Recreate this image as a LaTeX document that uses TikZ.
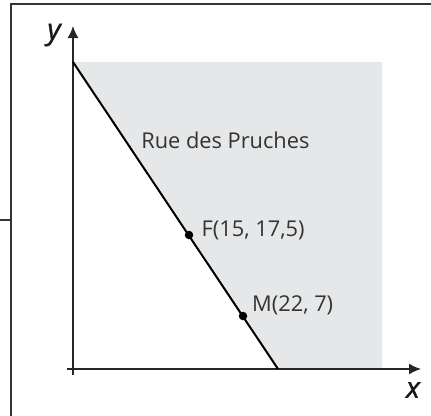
\documentclass[tikz,border=0pt]{standalone}
\usepackage{fontspec}
\setmainfont{Open Sans}
\usetikzlibrary{arrows.meta}
\definecolor{zone}{HTML}{E6E7E8}
\definecolor{frame}{HTML}{333333}
\tikzset{
  framel/.style={draw=frame, line width=2bp},
  axisl/.style={draw=black!85, line width=1.5bp, -{Latex[length=12bp,width=11bp]}},
  road/.style={draw=black, line width=2bp},
  pt/.style={circle, fill=black, inner sep=0pt, minimum size=8.5bp},
  lbl/.style={inner sep=0pt, font=\fontsize{21.8bp}{24bp}\selectfont, text=black!80},
  axlbl/.style={inner sep=0pt, font=\fontsize{29bp}{30bp}\selectfont\itshape\addfontfeature{FakeBold=1.3}, text=black!90}
}
\begin{document}
\begin{tikzpicture}[x=1bp,y=-1bp]
\useasboundingbox (0,0) rectangle (431,416);
% frame
\coordinate (ftl) at (11,4);
\coordinate (ftr) at (431,4);
\coordinate (fbl) at (11,416);
\coordinate (tick) at (0,220);
\coordinate (tickr) at (11,220);
\draw[framel] (ftr) -- (ftl) -- (fbl);
\draw[framel] (tick) -- (tickr);
% shaded region
\coordinate (A) at (73,62);
\coordinate (B) at (382,62);
\coordinate (C) at (382,369);
\coordinate (D) at (278,369);
\fill[zone] (A) -- (B) -- (C) -- (D) -- cycle;
% axes
\coordinate (xs) at (67,369);
\coordinate (xe) at (421,369);
\coordinate (ys) at (73,375);
\coordinate (ye) at (73,26);
\draw[axisl] (xs) -- (xe);
\draw[axisl] (ys) -- (ye);
\node[axlbl] (ylab) at (54,35) {y};
\node[axlbl] (xlab) at (413,390) {x};
% road
\draw[road] (A) -- (D);
\node[pt] (F) at (189,235) {};
\node[pt] (M) at (243,316) {};
\node[lbl, anchor=base west] (Flab) at (201.5,236.7) {F(15, 17,5)};
\node[lbl, anchor=base west] (Mlab) at (252,311.7) {M(22, 7)};
\node[lbl, anchor=base] (rue) at (225.4,148.3) {Rue des Pruches};
\end{tikzpicture}
\end{document}
